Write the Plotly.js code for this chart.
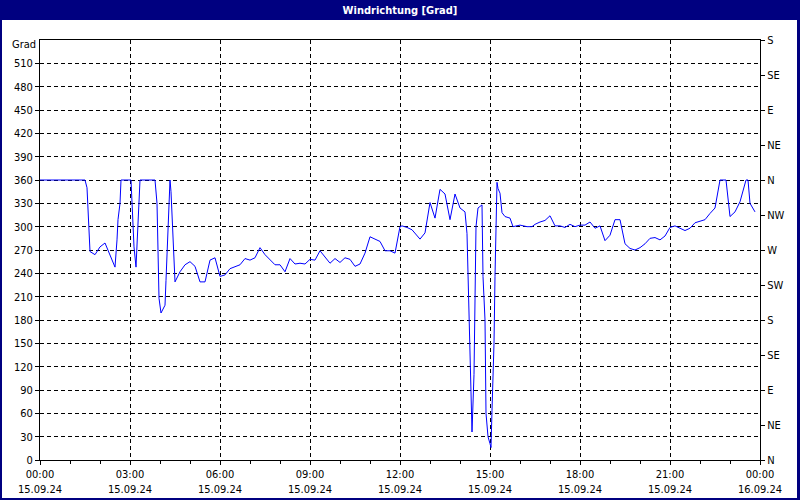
<!DOCTYPE html>
<html>
<head>
<meta charset="utf-8">
<script src="https://cdn.plot.ly/plotly-3.0.1.min.js"></script>
<style>
html,body{margin:0;padding:0;background:#fff;}
#chart{width:800px;height:500px;}
</style>
</head>
<body>
<div id="chart"></div>
<script>
const day = "2024-09-15";
const times = ["00:00","01:30","01:34","01:38","01:40","01:50","02:00","02:10","02:16","02:22","02:30","02:34","02:36","02:40","02:42",
"03:02","03:04","03:06","03:08","03:12","03:14","03:16","03:20","03:50","03:54","03:56","03:58","04:02","04:10","04:12","04:14","04:18","04:20","04:22","04:26","04:30","04:40","04:50",
"05:00","05:10","05:20","05:30","05:40","05:50","06:00","06:06","06:10","06:20","06:30","06:40","06:50","07:00","07:10","07:20","07:30","07:40","07:50",
"08:00","08:10","08:20","08:30","08:40","08:50","09:00","09:10","09:20","09:30","09:40","09:50","10:00","10:10","10:20","10:30","10:40","10:50",
"11:00","11:10","11:20","11:30","11:40","11:50","12:00","12:04","12:14","12:24","12:30","12:40","12:50","13:00","13:10","13:20","13:30","13:40","13:50",
"14:00","14:06","14:10","14:14","14:16","14:18","14:20","14:22","14:24","14:28","14:30","14:32","14:36","14:40","14:44","14:46","14:50","14:52","14:56","15:00",
"15:02","15:04","15:08","15:10","15:12","15:14","15:16","15:20","15:24","15:30","15:40","15:46","16:00","16:14","16:24","16:30","16:40","16:50","17:00","17:10","17:20","17:30","17:40","17:50",
"18:00","18:10","18:20","18:30","18:40","18:50","19:00","19:10","19:20","19:30","19:40","19:50","20:00","20:10","20:20","20:30","20:40","20:50",
"21:00","21:10","21:20","21:30","21:40","21:50","22:00","22:10","22:20","22:30","22:40","22:52","23:00","23:10","23:20","23:32","23:36","23:40","23:50"];
const direction = [360,360,350,300,268,264,274,279,270,261,248,283,309,330,360,
360,330,304,274,248,274,304,360,360,330,270,208,189,199,231,270,330,360,345,287,229,242,251,
255,249,229,229,257,260,236,237,238,246,248,251,259,257,260,273,264,257,251,
251,242,259,252,253,252,258,257,269,261,253,259,254,260,258,249,252,266,
287,284,281,269,269,266,300,301,299,296,292,284,292,331,311,348,342,309,342,
324,321,319,291,236,180,120,64,36,110,236,300,324,326,328,236,180,60,30,21,16,
64,150,236,296,357,349,343,318,313,311,300,302,300,300,303,306,308,314,301,301,299,303,300,302,
302,306,298,301,282,289,309,309,278,272,270,273,278,285,286,283,288,299,
301,298,295,298,305,307,309,317,324,360,360,313,319,332,360,360,330,319,313];

const xTickVals = ["2024-09-15 00:00","2024-09-15 03:00","2024-09-15 06:00","2024-09-15 09:00","2024-09-15 12:00","2024-09-15 15:00","2024-09-15 18:00","2024-09-15 21:00","2024-09-16 00:00"];
const xTickText = ["00:00<br>15.09.24","03:00<br>15.09.24","06:00<br>15.09.24","09:00<br>15.09.24","12:00<br>15.09.24","15:00<br>15.09.24","18:00<br>15.09.24","21:00<br>15.09.24","00:00<br>16.09.24"];
const yTickVals = [0,30,60,90,120,150,180,210,240,270,300,330,360,390,420,450,480,510];
const compassVals = [0,45,90,135,180,225,270,315,360,405,450,495,540];
const compassText = ["N","NE","E","SE","S","SW","W","NW","N","NE","E","SE","S"];

const xs = times.map(t => day + " " + t);
const FONT = "'DejaVu Sans Condensed', 'DejaVu Sans', sans-serif";
const navy = "#000080";

const traces = [
  {x: xs, y: direction, type: "scatter", mode: "lines", line: {color: "#0000ff", width: 1}, hoverinfo: "x+y", showlegend: false},
  {x: xs, y: direction, type: "scatter", mode: "lines", yaxis: "y2", line: {color: "rgba(0,0,0,0)", width: 0}, hoverinfo: "skip", showlegend: false}
];

const px = v => (v - 40) / 720;
const py = v => (460 - v) / 420;

const layout = {
  width: 800, height: 500,
  margin: {l: 40, r: 40, t: 40, b: 40, pad: 0},
  paper_bgcolor: "#ffffff", plot_bgcolor: "#ffffff",
  font: {family: FONT, size: 11, color: "#000"},
  title: {text: "Windrichtung [Grad]", font: {family: FONT, size: 11, color: "#ffffff", weight: "bold"},
          xref: "container", x: 0.5, xanchor: "center", yref: "container", y: 1 - 10/500, yanchor: "middle"},
  xaxis: {type: "date", range: ["2024-09-15 00:00", "2024-09-16 00:00"], tickmode: "array",
          tickvals: xTickVals, ticktext: xTickText, ticks: "outside", ticklen: 4, tickcolor: "#000",
          showline: true, linecolor: "#000", linewidth: 1, mirror: true,
          showgrid: true, gridcolor: "#000", gridwidth: 1, griddash: "4px,3px", zeroline: false,
          minor: {tickmode: "linear", tick0: "2024-09-15 00:00", dtick: 3600000, ticks: "outside", ticklen: 3, tickcolor: "#000", showgrid: false},
          tickfont: {family: FONT, size: 11, color: "#000"}, fixedrange: true},
  yaxis: {range: [0, 540], tickmode: "array", tickvals: yTickVals, ticks: "outside", ticklen: 4, tickcolor: "#000",
          showline: true, linecolor: "#000", linewidth: 1,
          showgrid: true, gridcolor: "#000", gridwidth: 1, griddash: "4px,3px", zeroline: false,
          tickfont: {family: FONT, size: 11, color: "#000"}, fixedrange: true},
  yaxis2: {range: [0, 540], overlaying: "y", side: "right", tickmode: "array", tickvals: compassVals, ticktext: compassText,
           ticks: "outside", ticklen: 4, tickcolor: "#000", showline: true, linecolor: "#000", linewidth: 1,
           showgrid: false, zeroline: false, tickfont: {family: FONT, size: 11, color: "#000"}, fixedrange: true},
  shapes: [
    {type: "rect", xref: "paper", yref: "paper", x0: px(0), x1: px(800), y0: py(20), y1: py(0), fillcolor: navy, line: {width: 0}, layer: "below"},
    {type: "rect", xref: "paper", yref: "paper", x0: px(0), x1: px(2), y0: py(500), y1: py(0), fillcolor: navy, line: {width: 0}, layer: "below"},
    {type: "rect", xref: "paper", yref: "paper", x0: px(797), x1: px(800), y0: py(500), y1: py(0), fillcolor: navy, line: {width: 0}, layer: "below"},
    {type: "rect", xref: "paper", yref: "paper", x0: px(0), x1: px(800), y0: py(500), y1: py(498), fillcolor: navy, line: {width: 0}, layer: "below"}
  ],
  annotations: [
    {text: "Grad", xref: "paper", yref: "paper", x: px(38), y: py(45), xanchor: "right", yanchor: "middle", showarrow: false,
     font: {family: FONT, size: 11, color: "#000"}}
  ]
};

Plotly.newPlot("chart", traces, layout, {displayModeBar: false, staticPlot: true});
</script>
</body>
</html>
